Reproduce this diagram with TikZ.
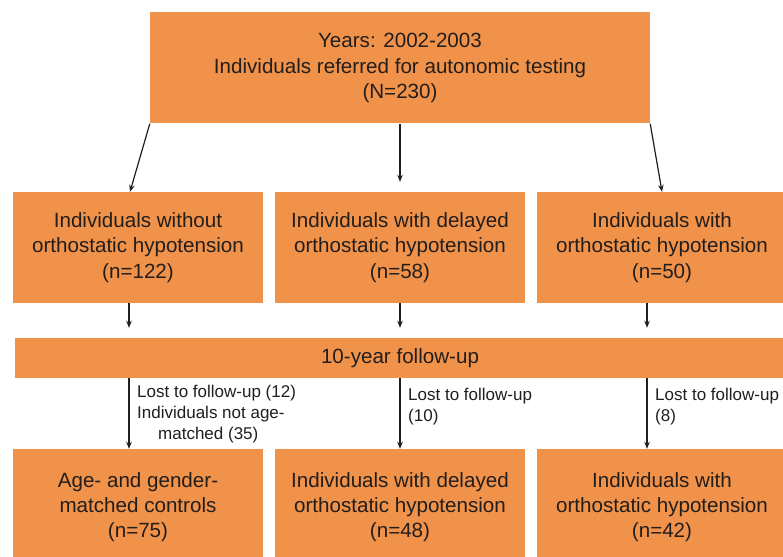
\documentclass[tikz,border=0pt]{standalone}
\usepackage{fontspec}
\setmainfont{Liberation Sans}
\usetikzlibrary{arrows.meta,calc}
\definecolor{boxorange}{RGB}{241,146,74}
\definecolor{inkgray}{RGB}{34,30,28}
\tikzset{
  box/.style={fill=boxorange, text=inkgray, align=center, inner sep=0pt,
    minimum width=250pt, minimum height=111pt, font=\fontsize{20.6}{25.3}\selectfont},
  lost/.style={anchor=north west, align=left, inner sep=0pt, text=inkgray,
    font=\fontsize{17}{21}\selectfont},
  arr/.style={-{Stealth[length=7pt,width=5.5pt]}, line width=1.2pt, draw=inkgray},
}
\begin{document}
\begin{tikzpicture}[x=1pt,y=-1pt]
            \useasboundingbox (0,0) rectangle (783,556);
            \clip (0,0) rectangle (783,556);

            % referred individuals
            \node[box, minimum width=500pt] (ref) at (400,68)
                {Years: 2002-2003\\Individuals referred for autonomic testing\\(N=230)};

            % groups at baseline
            \node[box] (noOH) at (138,247.5) {Individuals without\\orthostatic hypotension\\(n=122)};
            \node[box] (dOH) at (400,247.5) {Individuals with delayed\\orthostatic hypotension\\(n=58)};
            \node[box] (OH) at (662,247.5) {Individuals with\\orthostatic hypotension\\(n=50)};

            % follow-up bar
            \node[box, minimum width=770pt, minimum height=40pt] (fu) at (400,358) {10-year follow-up};

            % groups after follow-up
            \node[box, minimum height=116pt] (ctrl) at (138,507) {Age- and gender-\\matched controls\\(n=75)};
            \node[box, minimum height=116pt] (dOHb) at (400,507) {Individuals with delayed\\orthostatic hypotension\\(n=48)};
            \node[box, minimum height=116pt] (OHb) at (662,507) {Individuals with\\orthostatic hypotension\\(n=42)};

            % columns of the arrows
            \coordinate (c1) at (129,0);
            \coordinate (c2) at (400,0);
            \coordinate (c3) at (647,0);

            % from the referred individuals to the groups
            \draw[arr] (ref.south west) -- ($(noOH.north)+(-8,0)$);
            \draw[arr] (ref.south) -- ($(dOH.north)+(0,-10)$);
            \draw[arr] (ref.south east) -- (OH.north);

            % from the groups to the follow-up
            \draw[arr] (noOH.south -| c1) -- ($(fu.north -| c1)+(0,-10)$);
            \draw[arr] (dOH.south -| c2) -- ($(fu.north -| c2)+(0,-10)$);
            \draw[arr] (OH.south -| c3) -- ($(fu.north -| c3)+(0,-10)$);

            % from the follow-up to the final groups
            \draw[arr] (fu.south -| c1) -- (ctrl.north -| c1);
            \draw[arr] (fu.south -| c2) -- (dOHb.north -| c2);
            \draw[arr] (fu.south -| c3) -- (OHb.north -| c3);

            % losses
            \node[lost] (lost1) at (137,385) {Lost to follow-up (12)\\Individuals not age-\\\hspace*{21pt}matched (35)};
            \node[lost] (lost2) at (408,388) {Lost to follow-up\\(10)};
            \node[lost] (lost3) at (655,388) {Lost to follow-up\\(8)};
\end{tikzpicture}
\end{document}
